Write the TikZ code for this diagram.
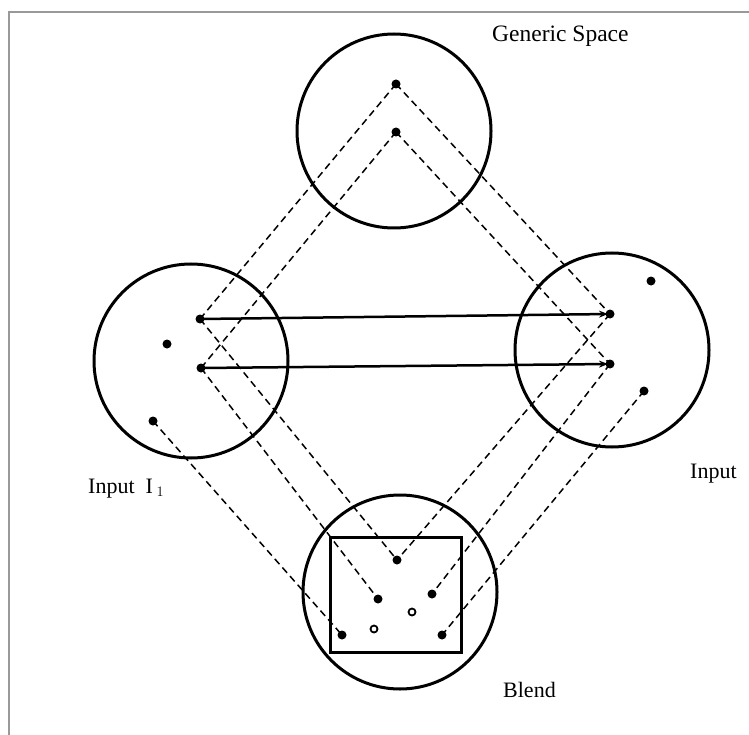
\documentclass[tikz,border=0pt]{standalone}
\usepackage{fontspec}
\setmainfont{Liberation Serif}
\usetikzlibrary{arrows.meta}
\begin{document}
\begin{tikzpicture}[x=1pt,y=-1pt,
  space/.style={draw, circle, line width=3pt, minimum size=194pt, inner sep=0pt},
  dot/.style={circle, fill, inner sep=0pt, minimum size=9pt},
  odot/.style={circle, draw, line width=1.8pt, fill=white, inner sep=0pt, minimum size=7pt},
  map/.style={dash pattern=on 7pt off 4.5pt, line width=1.5pt},
  link/.style={line width=2.5pt, -{Stealth[length=9pt,width=7pt]}, shorten >=2pt},
  lab/.style={font=\fontsize{22}{26}\selectfont, inner sep=0pt, anchor=base west}]
\useasboundingbox (0,0) rectangle (749,735);
\fill[white] (0,0) rectangle (749,735);
\draw[black!40, line width=1.5pt] (9,735) -- (9,12) -- (749,12);

% spaces
\node[space] (gen) at (394,131) {};
\node[space] (inA) at (191,361) {};
\node[space] (inB) at (612,350) {};
\node[space] (bl) at (400,592) {};
\draw[line width=3pt] (330,537) rectangle (461,652);

% element positions
\coordinate (g1) at (396,84);
\coordinate (g2) at (396,132);
\coordinate (a1) at (200,319);
\coordinate (a2) at (167,344);
\coordinate (a3) at (201,368);
\coordinate (a4) at (153,421);
\coordinate (b1) at (610,314);
\coordinate (b2) at (610,364);
\coordinate (b3) at (651,281);
\coordinate (b4) at (644,391);
\coordinate (c1) at (397,560);
\coordinate (c2) at (378,599);
\coordinate (c3) at (432,594);
\coordinate (c4) at (342,635);
\coordinate (c5) at (442,635);
\coordinate (o1) at (412,612);
\coordinate (o2) at (374,629);

% dashed mappings
\draw[map] (g1) -- (a1);
\draw[map] (g2) -- (a3);
\draw[map] (g1) -- (b1);
\draw[map] (g2) -- (b2);
\draw[map] (a1) -- (c1);
\draw[map] (a3) -- (c2);
\draw[map] (a4) -- (c4);
\draw[map] (b1) -- (c1);
\draw[map] (b2) -- (c3);
\draw[map] (b4) -- (c5);

% cross-space links
\draw[link] (a1) -- (b1);
\draw[link] (a3) -- (b2);

% dots
\foreach \p in {g1,g2,a1,a2,a3,a4,b1,b2,b3,b4,c1,c2,c3,c4,c5}
  \node[dot] (d\p) at (\p) {};
\node[odot] (do1) at (o1) {};
\node[odot] (do2) at (o2) {};

% labels
\node[lab, font=\fontsize{23.5}{27}\selectfont] (lgen) at (492,42) {Generic Space};
\node[lab] (linA) at (88,493) {Input\enspace I\,$_{1}$};
\node[lab] (linB) at (690,478) {Input};
\node[lab] (lbl) at (503,697) {Blend};
\end{tikzpicture}
\end{document}
